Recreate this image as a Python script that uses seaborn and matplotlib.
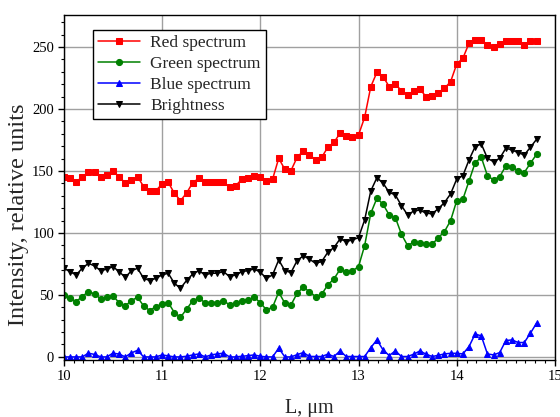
import matplotlib
matplotlib.use("Agg")
import matplotlib.pyplot as plt
from matplotlib.ticker import MultipleLocator
import seaborn as sns

# Scan position along the sample, micrometres
position_um = [
    10.0, 10.0625, 10.125, 10.1875, 10.25, 10.3125, 10.375, 10.4375,
    10.5, 10.5625, 10.625, 10.6875, 10.75, 10.8125, 10.875, 10.9375,
    11.0, 11.0625, 11.125, 11.1875, 11.25, 11.3125, 11.375, 11.4375,
    11.5, 11.5625, 11.625, 11.6875, 11.75, 11.8125, 11.875, 11.9375,
    12.0, 12.0625, 12.125, 12.1875, 12.25, 12.3125, 12.375, 12.4375,
    12.5, 12.5625, 12.625, 12.6875, 12.75, 12.8125, 12.875, 12.9375,
    13.0, 13.0625, 13.125, 13.1875, 13.25, 13.3125, 13.375, 13.4375,
    13.5, 13.5625, 13.625, 13.6875, 13.75, 13.8125, 13.875, 13.9375,
    14.0, 14.0625, 14.125, 14.1875, 14.25, 14.3125, 14.375, 14.4375,
    14.5, 14.5625, 14.625, 14.6875, 14.75, 14.8125,
]

red = [
    145.4, 144.1, 140.9, 145.4, 148.9, 148.9, 145.4, 146.8,
    150.0, 145.4, 140.1, 142.7, 145.4, 137.4, 134.1, 134.1,
    139.5, 140.9, 132.0, 126.1, 132.2, 140.6, 144.1, 140.9,
    140.9, 140.9, 140.9, 136.8, 138.2, 143.3, 144.1, 146.2,
    144.9, 141.9, 143.3, 160.2, 151.3, 150.3, 161.0, 166.1,
    163.2, 158.9, 161.0, 169.1, 173.1, 180.4, 178.2, 177.2,
    179.0, 193.3, 218.0, 229.6, 226.1, 218.0, 219.9, 214.8,
    211.3, 214.5, 216.1, 209.9, 210.2, 213.2, 216.7, 222.0,
    236.3, 240.9, 253.0, 255.6, 255.6, 251.6, 250.3, 252.4,
    255.1, 255.1, 255.1, 251.6, 255.1, 255.1,
]

green = [
    50.0, 47.3, 44.6, 48.7, 52.7, 50.8, 46.8, 48.1,
    49.2, 43.8, 41.1, 45.4, 48.1, 41.1, 37.4, 40.6,
    42.7, 43.8, 35.8, 32.0, 38.5, 45.4, 47.3, 43.8,
    43.8, 43.8, 45.4, 41.9, 43.3, 45.4, 46.0, 48.1,
    43.8, 37.9, 40.1, 52.2, 43.3, 41.9, 51.3, 56.2,
    52.7, 48.7, 50.5, 58.1, 62.9, 70.7, 68.8, 69.4,
    72.8, 89.8, 115.9, 128.0, 123.1, 114.5, 112.4, 98.9,
    89.8, 92.5, 91.7, 90.9, 90.9, 96.1, 101.1, 109.9,
    126.1, 127.2, 141.9, 156.7, 161.0, 146.2, 142.7, 145.4,
    154.0, 153.0, 150.3, 148.7, 156.2, 163.4,
]

blue = [
    0.0, 0.0, 0.0, 0.0, 3.0, 2.0, 0.0, 0.0,
    3.0, 2.3, 0.0, 3.2, 5.3, 0.0, 0.0, 0.0,
    1.6, 0.8, 0.0, 0.0, 0.5, 1.6, 2.4, 0.0,
    1.6, 2.4, 3.0, 0.0, 0.0, 0.5, 1.0, 1.6,
    0.5, 0.0, 0.0, 7.0, 0.0, 0.0, 1.8, 3.5,
    0.4, 0.3, 0.3, 2.2, 0.3, 4.8, 0.3, 0.3,
    0.3, 0.3, 7.5, 13.7, 5.6, 1.1, 4.8, 0.3,
    0.3, 2.2, 4.8, 2.2, 0.3, 1.3, 2.4, 2.9,
    2.9, 2.4, 8.3, 18.5, 16.9, 2.4, 1.6, 3.5,
    13.2, 13.7, 11.6, 11.6, 19.1, 27.2,
]

brightness = [
    71.5, 68.8, 66.1, 71.5, 75.5, 73.4, 69.6, 70.7,
    72.8, 68.8, 64.2, 69.4, 71.5, 63.4, 61.6, 63.4,
    66.1, 67.5, 59.4, 55.4, 61.7, 66.9, 69.6, 66.1,
    67.5, 67.5, 68.8, 64.8, 66.1, 68.8, 69.6, 71.0,
    68.3, 63.4, 66.1, 78.2, 69.6, 68.0, 77.7, 81.5,
    78.9, 75.5, 76.9, 84.4, 88.2, 95.2, 93.0, 94.4,
    96.2, 110.5, 133.9, 144.6, 140.1, 132.8, 130.6, 122.0,
    114.5, 117.7, 118.5, 115.9, 115.5, 119.6, 124.5, 131.5,
    143.5, 146.2, 158.9, 169.6, 171.8, 160.2, 157.5, 160.2,
    168.3, 166.9, 164.8, 162.9, 169.1, 175.5,
]

series_labels = ["Red spectrum", "Green spectrum", "Blue spectrum", "Brightness"]

sns.set_theme(style="ticks")
plt.rcParams["font.family"] = ["Liberation Serif", "DejaVu Serif"]

fig = plt.figure(figsize=(5.6, 4.17), dpi=100)
ax = fig.add_axes([0.114, 0.137, 0.877, 0.827])

styles = [
    (red, "#ff0000", "s", 4.2),
    (green, "#008000", "o", 4.4),
    (blue, "#0000ff", "^", 4.8),
    (brightness, "#000000", "v", 4.8),
]
for (vals, col, mk, ms), lab in zip(styles, series_labels):
    sns.lineplot(x=position_um, y=vals, ax=ax, color=col, marker=mk,
                 markersize=ms, markeredgecolor=col, markerfacecolor=col,
                 linewidth=1.1, label=lab)

ax.set_xlim(10, 15)
ax.set_ylim(-2.4, 275.8)
ax.xaxis.set_major_locator(MultipleLocator(1))
ax.xaxis.set_minor_locator(MultipleLocator(0.1))
ax.yaxis.set_major_locator(MultipleLocator(50))
ax.yaxis.set_minor_locator(MultipleLocator(10))

ax.grid(True, which="major", color="#a0a0a0", linewidth=1.0)
ax.set_axisbelow(True)
for sp in ax.spines.values():
    sp.set_visible(True)
    sp.set_color("black")
    sp.set_linewidth(1.0)

ax.tick_params(which="major", direction="out", length=4, width=1.0,
               labelsize=10.5, colors="black", pad=3)
ax.tick_params(which="minor", direction="out", length=2.5, width=0.8,
               colors="black")

ax.set_xlabel("L, μm", fontsize=14.5, labelpad=12)
ax.set_ylabel("Intensity, relative units", fontsize=17.5, labelpad=2)
ax.yaxis.label.set_y(0.42)

leg = ax.legend(loc="upper left", bbox_to_anchor=(0.059, 0.957),
                borderaxespad=0, fontsize=12.5, frameon=True, fancybox=False,
                edgecolor="black", framealpha=1, handlelength=2.4,
                labelspacing=0.28, borderpad=0.3, handletextpad=0.6)
leg.get_frame().set_linewidth(1.0)

fig.savefig("out.png", dpi=100)
